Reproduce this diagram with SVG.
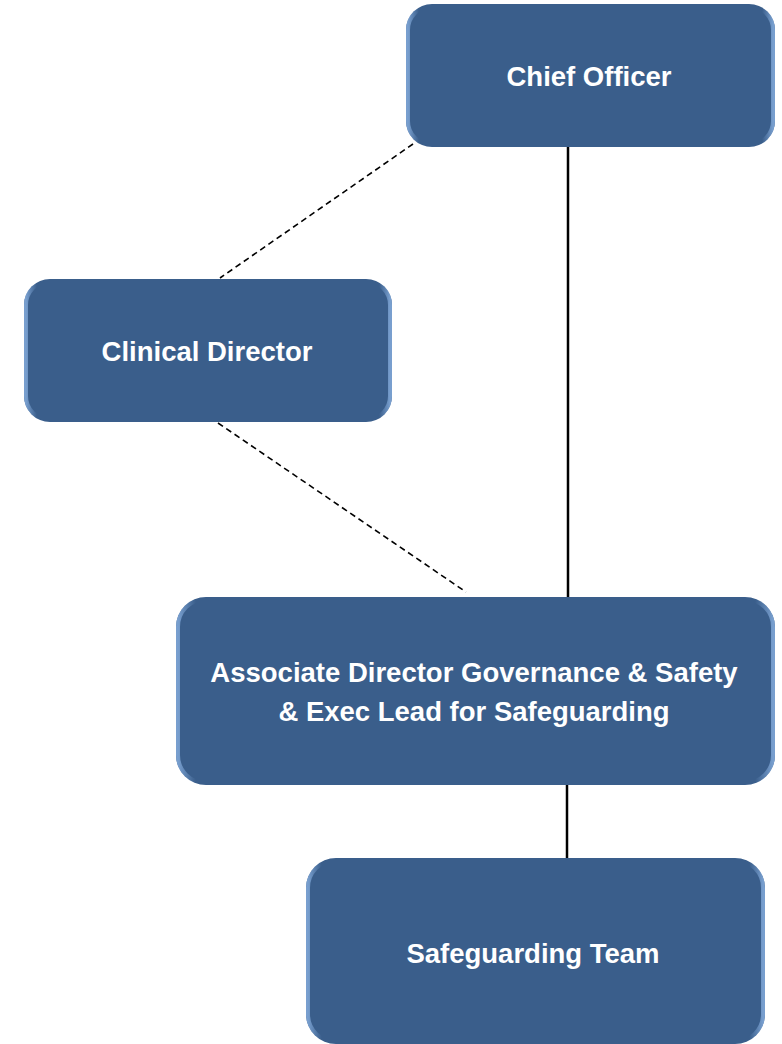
<svg xmlns="http://www.w3.org/2000/svg" width="782" height="1044" viewBox="0 0 782 1044">
  <style>
    .box { fill: #3A5E8B; }
    .bevel { fill: none; stroke: url(#edge); stroke-width: 4; }
    .label { font-family: "Liberation Sans", Arial, sans-serif; font-weight: bold; font-size: 27.5px; fill: #FFFFFF; text-anchor: middle; }
    .solid { stroke: #000; stroke-width: 2.5; fill: none; }
    .dashed { stroke: #000; stroke-width: 1.6; stroke-dasharray: 6 4; fill: none; }
  </style>
  <defs>
    <!-- soft lighter highlight along the left and right edges of each box -->
    <linearGradient id="edge" x1="0" y1="0" x2="1" y2="0">
      <stop offset="0" stop-color="#7FA6D6" stop-opacity="0.9"/>
      <stop offset="0.03" stop-color="#7FA6D6" stop-opacity="0"/>
      <stop offset="0.97" stop-color="#7FA6D6" stop-opacity="0"/>
      <stop offset="1" stop-color="#7FA6D6" stop-opacity="0.9"/>
    </linearGradient>
  </defs>

  <g id="connectors">
    <line class="solid" x1="568" y1="147" x2="568" y2="598"/>
    <line class="solid" x1="567" y1="784" x2="567" y2="859"/>
    <line class="dashed" x1="413" y1="144" x2="220" y2="278"/>
    <line class="dashed" x1="218" y1="423" x2="466" y2="592"/>
  </g>

  <g id="chief-officer">
    <rect class="box" x="406" y="4" width="369" height="143" rx="26"/>
    <rect class="bevel" x="408" y="6" width="365" height="139" rx="24"/>
    <text class="label" x="589" y="86">Chief Officer</text>
  </g>

  <g id="clinical-director">
    <rect class="box" x="24" y="279" width="368" height="143" rx="26"/>
    <rect class="bevel" x="26" y="281" width="364" height="139" rx="24"/>
    <text class="label" x="207" y="361">Clinical Director</text>
  </g>

  <g id="associate-director">
    <rect class="box" x="176" y="597" width="599" height="188" rx="30"/>
    <rect class="bevel" x="178" y="599" width="595" height="184" rx="28"/>
    <text class="label" x="474" y="682">Associate Director Governance &amp; Safety</text>
    <text class="label" x="474" y="721">&amp; Exec Lead for Safeguarding</text>
  </g>

  <g id="safeguarding-team">
    <rect class="box" x="306" y="858" width="459" height="186" rx="30"/>
    <rect class="bevel" x="308" y="860" width="455" height="182" rx="28"/>
    <text class="label" x="533" y="963">Safeguarding Team</text>
  </g>
</svg>
